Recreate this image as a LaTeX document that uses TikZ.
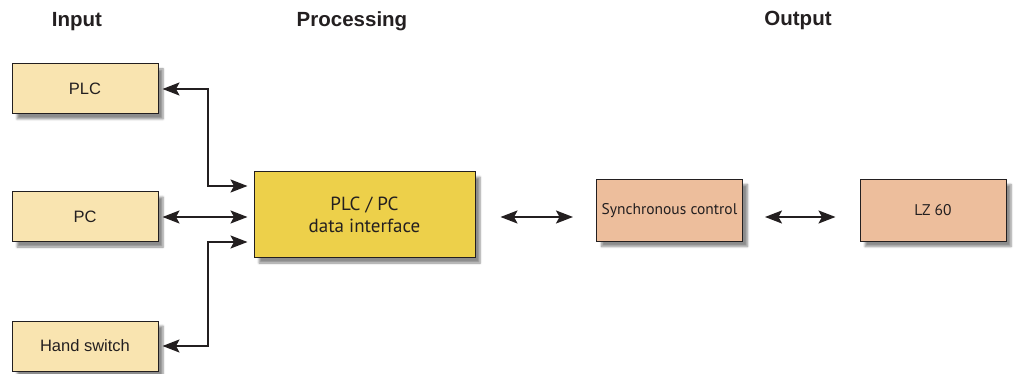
\documentclass[tikz,border=0pt]{standalone}
\usepackage{fontspec}
\setmainfont{Liberation Sans}
\newfontfamily\myr{PT Sans}
\usetikzlibrary{arrows.meta,shadows.blur}
\definecolor{inpfill}{HTML}{F9E4B0}
\definecolor{procfill}{HTML}{EDD04A}
\definecolor{outfill}{HTML}{EDBE9C}
\definecolor{txt}{HTML}{231F20}
\tikzset{
  box/.style={draw=txt, line width=1pt, text=txt, inner sep=0pt,
    blur shadow={shadow xshift=5pt, shadow yshift=-5pt, shadow blur steps=6, shadow opacity=45}},
  inbox/.style={box, fill=inpfill, minimum width=146pt, minimum height=50pt, font=\fontsize{16.5}{19}\selectfont},
  procbox/.style={box, fill=procfill, minimum width=221pt, minimum height=86pt, align=center, font=\myr\fontsize{19}{22}\selectfont},
  outbox/.style={box, fill=outfill, minimum width=146pt, minimum height=62pt, font=\myr\fontsize{15.5}{18}\selectfont},
  head/.style={font=\bfseries\fontsize{20.5}{24}\selectfont, text=txt},
  tip/.style={Stealth[length=17pt,width=13pt,inset=3.5pt]},
  arr/.style={line width=2pt, draw=txt, {Stealth[length=17pt,width=13pt,inset=3.5pt]}-{Stealth[length=17pt,width=13pt,inset=3.5pt]}},
}
\begin{document}
\begin{tikzpicture}[x=1pt,y=-1pt]
\useasboundingbox (0,0) rectangle (1018,374);
\node[head] (hin) at (77,22) {Input};
\node[head] (hproc) at (352,21) {Processing};
\node[head] (hout) at (798,20) {Output};
\node[inbox] (plc) at (85,89) {PLC};
\node[inbox] (pc) at (85,217) {PC};
\node[inbox] (hand) at (85,346) {Hand switch};
\node[procbox] (dif) at (364.5,215) {PLC / PC\\data interface};
\node[outbox] (sync) at (669.5,210.5) {Synchronous control};
\node[outbox] (lz) at (933,210.5) {LZ 60};
\draw[arr] ([xshift=4pt]plc.east) -- ++(45pt,0) |- ([xshift=-6pt,yshift=29pt]dif.west);
\draw[arr] ([xshift=4pt]pc.east) -- ([xshift=-6pt,yshift=-2pt]dif.west);
\draw[arr] ([xshift=4pt]hand.east) -- ++(45pt,0) |- ([xshift=-6pt,yshift=-27pt]dif.west);
\draw[arr] ([xshift=25pt,yshift=-2pt]dif.east) -- ([xshift=-23pt,yshift=-6.5pt]sync.west);
\draw[arr] ([xshift=22pt,yshift=-6.5pt]sync.east) -- ([xshift=-24pt,yshift=-6.5pt]lz.west);
\end{tikzpicture}
\end{document}
